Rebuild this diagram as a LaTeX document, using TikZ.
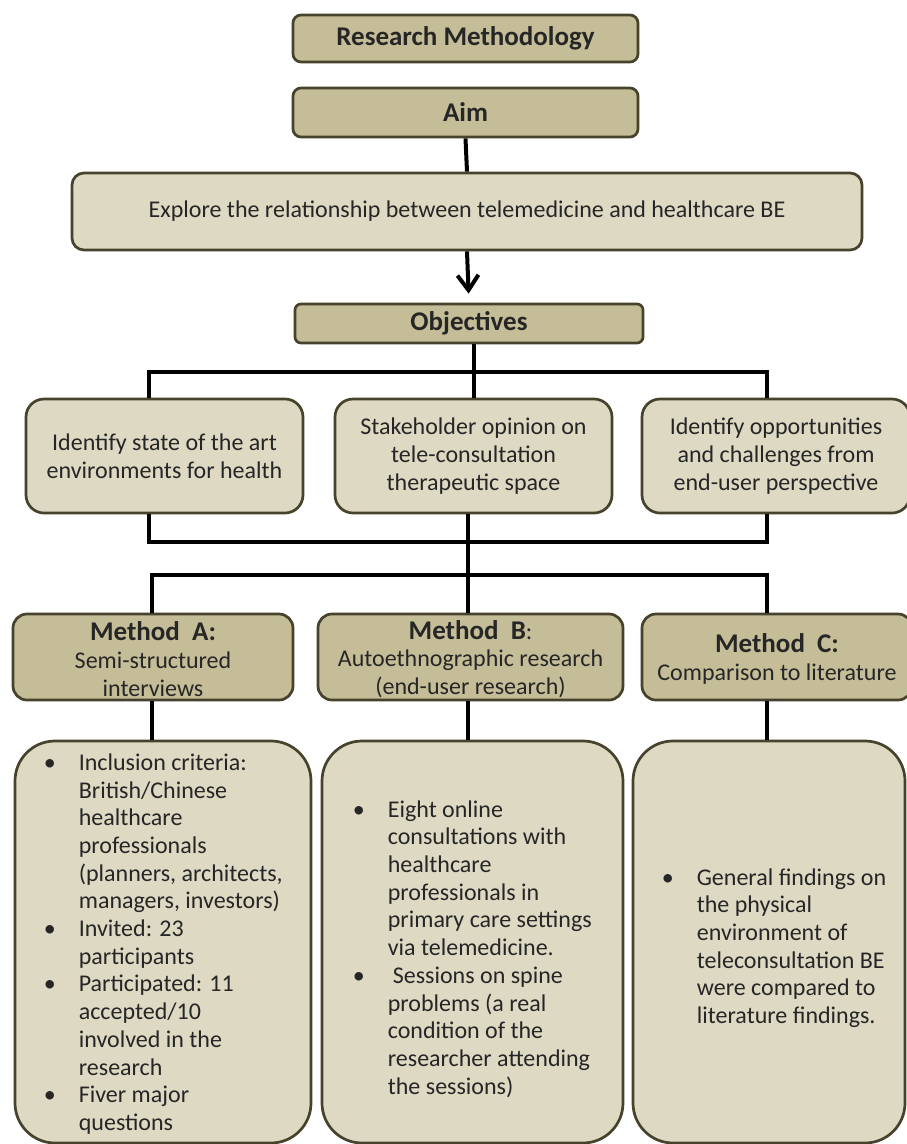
\documentclass[tikz,border=0pt]{standalone}
\usepackage{fontspec}
\setmainfont{Carlito}
\usetikzlibrary{arrows.meta}
\definecolor{tanD}{HTML}{C4BD97}
\definecolor{tanL}{HTML}{DDD9C3}
\definecolor{edgec}{HTML}{46422C}
\definecolor{ink}{HTML}{262626}
\newcommand\bul{\makebox[35pt][l]{\textbullet}}
\newcommand\ind{\hspace*{35pt}}
\newcommand\hd[1]{{\fontsize{27}{27.7}\selectfont\bfseries #1}}
\begin{document}
\begin{tikzpicture}[x=1pt,y=-1pt,
  box/.style={draw=edgec, line width=2.7pt, text=ink, inner sep=0pt, align=center,
              font=\fontsize{24}{27.7}\selectfont},
  dark/.style={box, fill=tanD},
  light/.style={box, fill=tanL},
  ctxt/.style={text=ink, inner sep=0pt, align=center, font=\fontsize{24}{27.7}\selectfont},
  txt/.style={text=ink, inner sep=0pt, align=left, anchor=west, font=\fontsize{24}{27.7}\selectfont},
  conn/.style={line width=4pt, draw=black}]
\useasboundingbox (0,0) rectangle (907,1144);
\fill[white] (0,0) rectangle (907,1144);

% top
\node[dark, minimum width=345pt, minimum height=47pt, rounded corners=8pt] (rm) at (465.5,38.5) {\hd{Research Methodology}};
\node[dark, minimum width=345pt, minimum height=49pt, rounded corners=8pt] (aim) at (465.5,112.5) {\hd{Aim}};
\node[light, minimum width=790pt, minimum height=77pt, rounded corners=12pt] (explore) at (467,211.5) {Explore the relationship between telemedicine and healthcare BE};
\node[dark, minimum width=348pt, minimum height=39pt, rounded corners=6pt] (objectives) at (469,323.5) {\hd{Objectives}};

% objectives
\node[light, minimum width=277pt, minimum height=114pt, rounded corners=18pt] (o1) at (164.5,456) {Identify state of the art\\environments for health};
\node[light, minimum width=277pt, minimum height=114pt, rounded corners=18pt] (o2) at (473.5,456) {Stakeholder opinion on\\tele-consultation\\therapeutic space};
\node[light, minimum width=268pt, minimum height=114pt, rounded corners=18pt] (o3) at (776,456) {Identify opportunities\\and challenges from\\end-user perspective};

% methods
\node[dark, minimum width=280pt, minimum height=86pt, rounded corners=14pt] (m1) at (153,657) {};
\node[dark, minimum width=305pt, minimum height=86pt, rounded corners=14pt] (m2) at (470.5,657) {};
\node[dark, minimum width=270pt, minimum height=86pt, rounded corners=14pt] (m3) at (777,657) {};
\node[ctxt, yshift=-2pt] (mt1) at (m1) {\hd{Method~ A:}\\Semi-structured\\interviews};
\node[ctxt, yshift=-2pt] (mt2) at (m2) {\hd{Method~ B}:\\Autoethnographic research\\(end-user research)};
\node[ctxt, yshift=-2pt] (mt3) at (m3) {\hd{Method~ C:}\\Comparison to literature};

% details
\node[light, minimum width=296pt, minimum height=402pt, rounded corners=40pt] (d1) at (163,942) {};
\node[light, minimum width=301pt, minimum height=402pt, rounded corners=40pt] (d2) at (472.5,942) {};
\node[light, minimum width=272pt, minimum height=402pt, rounded corners=40pt] (d3) at (769,942) {};

\node[txt, yshift=-2pt] (t1) at ([xshift=30pt]d1.west) {\bul Inclusion criteria:\\ \ind British/Chinese\\ \ind healthcare\\ \ind professionals\\ \ind (planners, architects,\\ \ind managers, investors)\\ \bul Invited: 23\\ \ind participants\\ \bul Participated: 11\\ \ind accepted/10\\ \ind involved in the\\ \ind research\\ \bul Fiver major\\ \ind questions};
\node[txt, yshift=-7pt] (t2) at ([xshift=32pt]d2.west) {\bul Eight online\\ \ind consultations with\\ \ind healthcare\\ \ind professionals in\\ \ind primary care settings\\ \ind via telemedicine.\\ \bul \hspace*{5pt}Sessions on spine\\ \ind problems (a real\\ \ind condition of the\\ \ind researcher attending\\ \ind the sessions)};
\node[txt, yshift=-6pt] (t3) at ([xshift=30pt]d3.west) {\bul General findings on\\ \ind the physical\\ \ind environment of\\ \ind teleconsultation BE\\ \ind were compared to\\ \ind literature findings.};

% junction coordinates
\coordinate (jL) at (149,372);
\coordinate (jR) at (767,372);
\coordinate (kL) at (149,542);
\coordinate (kR) at (767,542);
\coordinate (mL) at (152,575);
\coordinate (mM) at (468,575);
\coordinate (mR) at (767,575);

% connectors
\draw[conn] (aim.south) -- (explore.north);
\draw[conn, -{Straight Barb[length=15pt,width=21pt]}, shorten >=9pt] (explore.south) -- (objectives.north);
\draw[conn] (objectives.south -| o2.north) -- (o2.north);
\draw[conn] (jL |- o1.north) -- (jL) -- (jR) -- (jR |- o3.north);
\draw[conn] (kL |- o1.south) -- (kL) -- (kR) -- (kR |- o3.south);
\draw[conn] (mM |- o2.south) -- (mM |- m2.north);
\draw[conn] (mL |- m1.north) -- (mL) -- (mR) -- (mR |- m3.north);
\draw[conn] (mL |- m1.south) -- (mL |- d1.north);
\draw[conn] (mM |- m2.south) -- (mM |- d2.north);
\draw[conn] (mR |- m3.south) -- (mR |- d3.north);
\end{tikzpicture}
\end{document}
